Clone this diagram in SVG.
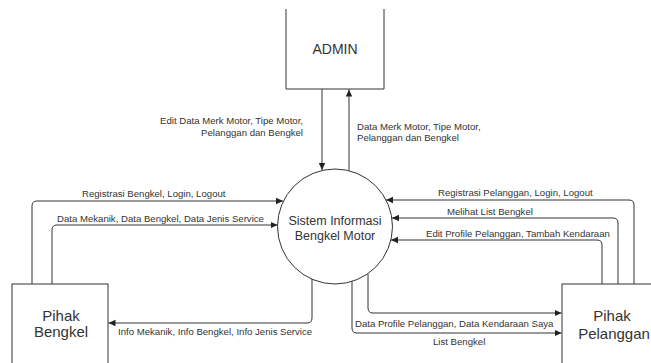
<svg xmlns="http://www.w3.org/2000/svg" width="651" height="363" viewBox="0 0 651 363">
<style>
.box{fill:#fff;stroke:#333;stroke-width:1}
.ln{fill:none;stroke:#333;stroke-width:1;marker-end:url(#ah)}
.lbl{font-family:"Liberation Sans",Arial,sans-serif;font-size:9.6px;fill:#333}
.nt{font-family:"Liberation Sans",Arial,sans-serif;fill:#333;text-anchor:middle}
</style>
<defs>
<marker id="ah" markerUnits="userSpaceOnUse" markerWidth="8" markerHeight="8" viewBox="0 0 8 8" refX="7" refY="4" orient="auto">
<path d="M0,0.8 L7,4 L0,7.2 Z" fill="#222"/>
</marker>
</defs>
<rect width="651" height="363" fill="#fff"/>
<g id="admin">
<path class="box" d="M286,9 V89 H384 V9"/>
<text class="nt" x="335" y="54" font-size="14">ADMIN</text>
</g>
<g id="sistem">
<circle class="box" cx="335" cy="226.5" r="57.5"/>
<text class="nt" x="335" y="225" font-size="12.5">Sistem Informasi</text>
<text class="nt" x="335" y="240" font-size="12.5">Bengkel Motor</text>
</g>
<g id="pihak-bengkel">
<rect class="box" x="12" y="284" width="96" height="90"/>
<text class="nt" x="61" y="321" font-size="15">Pihak</text>
<text class="nt" x="61" y="337" font-size="15">Bengkel</text>
</g>
<g id="pihak-pelanggan">
<rect class="box" x="562" y="284" width="110" height="90"/>
<text class="nt" x="612" y="321" font-size="15">Pihak</text>
<text class="nt" x="614" y="339" font-size="15">Pelanggan</text>
</g>
<g id="connectors">
<path class="ln" d="M322,89 V170"/>
<path class="ln" d="M349,170.5 V89.5"/>
<path class="ln" d="M32,284 V206 Q32,201 37,201 H283"/>
<path class="ln" d="M52,284 V230 Q52,225 57,225 H277.5"/>
<path class="ln" d="M312,279 V318 Q312,323 307,323 H108.5"/>
<path class="ln" d="M634,284 V205 Q634,200 629,200 H386"/>
<path class="ln" d="M618,284 V223 Q618,218 613,218 H392"/>
<path class="ln" d="M602,284 V245 Q602,240 597,240 H391"/>
<path class="ln" d="M368,274 V308 Q368,313 373,313 H561.5"/>
<path class="ln" d="M352,281 V328 Q352,333 357,333 H561.5"/>
</g>
<g id="labels">
<text class="lbl" x="303" y="123.5" text-anchor="end">Edit Data Merk Motor, Tipe Motor,</text>
<text class="lbl" x="303" y="136" text-anchor="end">Pelanggan dan Bengkel</text>
<text class="lbl" x="357" y="129.5">Data Merk Motor, Tipe Motor,</text>
<text class="lbl" x="357" y="140.5">Pelanggan dan Bengkel</text>
<text class="lbl" x="82" y="197">Registrasi Bengkel, Login, Logout</text>
<text class="lbl" x="57" y="222">Data Mekanik, Data Bengkel, Data Jenis Service</text>
<text class="lbl" x="118" y="335">Info Mekanik, Info Bengkel, Info Jenis Service</text>
<text class="lbl" x="438" y="196">Registrasi Pelanggan, Login, Logout</text>
<text class="lbl" x="447" y="215">Melihat List Bengkel</text>
<text class="lbl" x="426" y="237">Edit Profile Pelanggan, Tambah Kendaraan</text>
<text class="lbl" x="355" y="327">Data Profile Pelanggan, Data Kendaraan Saya</text>
<text class="lbl" x="433" y="345">List Bengkel</text>
</g>
</svg>
